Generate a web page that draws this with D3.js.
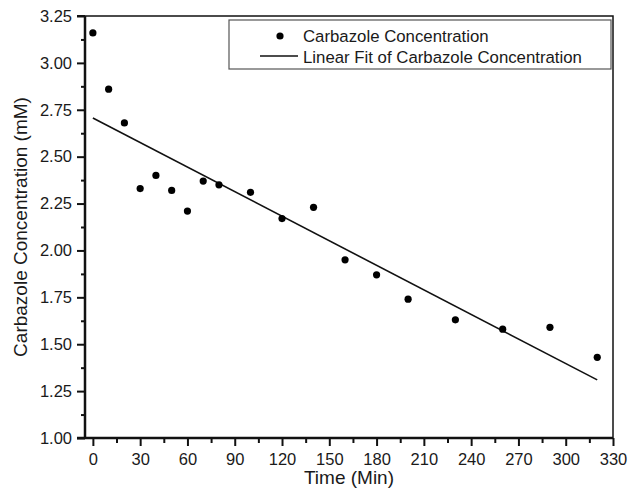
<!DOCTYPE html>
<html>
<head>
<meta charset="utf-8">
<script src="https://cdn.jsdelivr.net/npm/d3@7"></script>
<style>
  body { margin: 0; background: #fff; }
  svg text { font-family: "Liberation Sans", Arial, sans-serif; fill: #1a1a1a; }
</style>
</head>
<body>
<div id="container"></div>
<script>
// data
var timeMin = [0, 10, 20, 30, 40, 50, 60, 70, 80, 100, 120, 140, 160, 180, 200, 230, 260, 290, 320];
var concMM  = [3.16, 2.86, 2.68, 2.33, 2.40, 2.32, 2.21, 2.37, 2.35, 2.31, 2.17, 2.23, 1.95, 1.87, 1.74, 1.63, 1.58, 1.59, 1.43];
var fitX = [0, 320];
var fitY = [2.706, 1.31];
var xTicks = [0, 30, 60, 90, 120, 150, 180, 210, 240, 270, 300, 330];
var yTicks = [1.00, 1.25, 1.50, 1.75, 2.00, 2.25, 2.50, 2.75, 3.00, 3.25];
var legendLabels = ["Carbazole Concentration", "Linear Fit of Carbazole Concentration"];

var W = 629, H = 490;
var margin = {top: 16, right: 16, bottom: 52, left: 85},
    width = W - margin.left - margin.right,
    height = H - margin.top - margin.bottom;

var svg = d3.select("#container").append("svg")
    .attr("width", W)
    .attr("height", H)
  .append("g")
    .attr("transform", "translate(" + margin.left + "," + margin.top + ")");

var x = d3.scaleLinear().domain([-5, 330]).range([0, width]);
var y = d3.scaleLinear().domain([1.0, 3.25]).range([height, 0]);

// minor ticks half way between majors
var xMinor = xTicks.slice(0, -1).map(function(d) { return d + 15; });
var yMinor = yTicks.slice(0, -1).map(function(d) { return d + 0.125; });

var xAxis = svg.append("g")
    .attr("transform", "translate(0," + height + ")")
    .call(d3.axisBottom(x).tickValues(xTicks).tickSize(8).tickPadding(7).tickFormat(d3.format("d")));
var xAxisMinor = svg.append("g")
    .attr("transform", "translate(0," + height + ")")
    .call(d3.axisBottom(x).tickValues(xMinor).tickSize(5).tickFormat(""));

var yAxis = svg.append("g")
    .call(d3.axisLeft(y).tickValues(yTicks).tickSize(8).tickPadding(5).tickFormat(d3.format(".2f")));
var yAxisMinor = svg.append("g")
    .call(d3.axisLeft(y).tickValues(yMinor).tickSize(4).tickFormat(""));

[xAxis, xAxisMinor, yAxis, yAxisMinor].forEach(function(a) {
  a.select(".domain").remove();
  a.selectAll("line").attr("stroke", "#111").attr("stroke-width", 2);
  a.selectAll("text").style("font-size", "16.5px").attr("fill", "#1a1a1a");
});

// frame
svg.append("rect")
    .attr("x", 0).attr("y", 0)
    .attr("width", width).attr("height", height)
    .attr("fill", "none")
    .attr("stroke", "#111")
    .attr("stroke-width", 1.5);
svg.append("line")
    .attr("x1", 0).attr("x2", 0).attr("y1", 0).attr("y2", height)
    .attr("stroke", "#111").attr("stroke-width", 2.5);
svg.append("line")
    .attr("x1", -8).attr("x2", width).attr("y1", height).attr("y2", height)
    .attr("stroke", "#111").attr("stroke-width", 2.5);
svg.append("line")
    .attr("x1", -8).attr("x2", 0).attr("y1", 0).attr("y2", 0)
    .attr("stroke", "#111").attr("stroke-width", 2);

// fit line
var line = d3.line()
    .x(function(d) { return x(d[0]); })
    .y(function(d) { return y(d[1]); });
svg.append("path")
    .datum(d3.zip(fitX, fitY))
    .attr("d", line)
    .attr("fill", "none")
    .attr("stroke", "#111")
    .attr("stroke-width", 1.6);

// points
svg.selectAll("circle.pt")
    .data(d3.zip(timeMin, concMM))
  .enter().append("circle")
    .attr("class", "pt")
    .attr("cx", function(d) { return x(d[0]); })
    .attr("cy", function(d) { return y(d[1]); })
    .attr("r", 3.6)
    .attr("fill", "#000");

// axis titles
svg.append("text")
    .attr("x", width / 2)
    .attr("y", height + 46)
    .attr("text-anchor", "middle")
    .style("font-size", "19px")
    .text("Time (Min)");

svg.append("text")
    .attr("transform", "rotate(-90)")
    .attr("x", -height / 2)
    .attr("y", -58)
    .attr("text-anchor", "middle")
    .style("font-size", "19px")
    .text("Carbazole Concentration (mM)");

// legend
var lg = svg.append("g").attr("transform", "translate(" + (229 - margin.left) + "," + (20 - margin.top) + ")");
lg.append("rect")
    .attr("width", 382).attr("height", 49)
    .attr("fill", "#fff")
    .attr("stroke", "#555")
    .attr("stroke-width", 1.2);
lg.append("circle")
    .attr("cx", 51).attr("cy", 16).attr("r", 3.6).attr("fill", "#000");
lg.append("line")
    .attr("x1", 31).attr("x2", 69).attr("y1", 36).attr("y2", 36)
    .attr("stroke", "#111").attr("stroke-width", 1.6);
lg.selectAll("text.lbl")
    .data(legendLabels)
  .enter().append("text")
    .attr("class", "lbl")
    .attr("x", 74)
    .attr("y", function(d, i) { return 16 + i * 21; })
    .attr("dy", ".35em")
    .style("font-size", "16.8px")
    .text(function(d) { return d; });
</script>
</body>
</html>
